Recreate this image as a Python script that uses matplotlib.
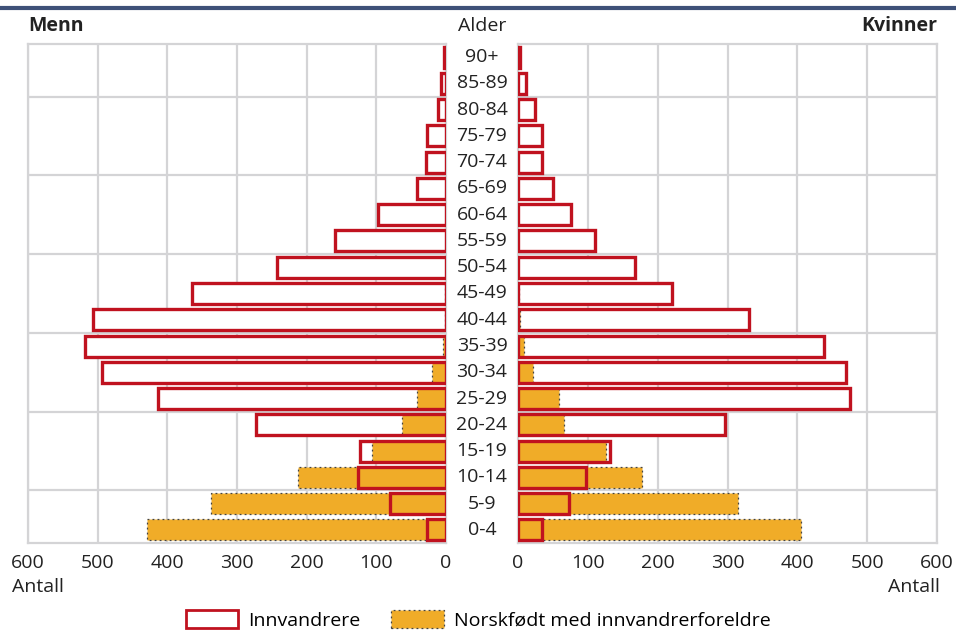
import numpy as np
import matplotlib.pyplot as plt
from matplotlib.patches import Patch

plt.rcParams['font.family'] = ['Open Sans', 'DejaVu Sans']

ages = ['0-4', '5-9', '10-14', '15-19', '20-24', '25-29', '30-34', '35-39', '40-44',
        '45-49', '50-54', '55-59', '60-64', '65-69', '70-74', '75-79', '80-84', '85-89', '90+']

# men
menn_innv = [27, 81, 126, 123, 273, 414, 494, 518, 507, 365, 243, 159, 97, 42, 29, 27, 11, 7, 3]
menn_nf = [429, 337, 213, 106, 63, 41, 20, 4, 1, 1, 0, 0, 0, 0, 0, 0, 0, 0, 0]
# women
kv_innv = [34, 73, 98, 132, 296, 475, 470, 438, 331, 221, 168, 110, 76, 50, 35, 35, 24, 12, 3]
kv_nf = [405, 315, 177, 126, 66, 59, 21, 8, 3, 2, 0, 0, 0, 0, 0, 0, 0, 0, 0]

red = '#C0121F'
orange = '#F0AC28'
grid_c = '#D4D4D6'
txt = '#222222'
fs = 14

fig = plt.figure(figsize=(9.56, 6.3), dpi=100)
axL = fig.add_axes([28 / 956, 87 / 630, 418 / 956, 499 / 630])
axR = fig.add_axes([518 / 956, 87 / 630, 419 / 956, 499 / 630])

y = np.arange(len(ages))
h = 0.8

for ax, innv, nf in [(axL, menn_innv, menn_nf), (axR, kv_innv, kv_nf)]:
    ax.barh(y, innv, height=h, color='white', edgecolor='none', zorder=2)
    ax.barh(y, nf, height=h, color=orange, edgecolor='#444444', linestyle=(0, (1.5, 2.5)),
            linewidth=0.9, zorder=3)
    ax.barh(y, innv, height=h, facecolor='none', edgecolor=red, linewidth=2.4, zorder=4)
    ax.set_xlim(0, 600)
    ax.set_ylim(-0.5, 18.5)
    ax.set_xticks(range(0, 601, 100))
    ax.set_yticks([])
    ax.set_yticks([1.5, 4.5, 7.5, 10.5, 13.5, 16.5], minor=True)
    ax.tick_params(axis='y', which='minor', length=0)
    ax.tick_params(axis='x', length=0, labelsize=fs, colors=txt, pad=8)
    ax.grid(True, axis='x', color=grid_c, linewidth=1.6, zorder=0)
    ax.grid(True, axis='y', which='minor', color=grid_c, linewidth=1.6, zorder=0)
    ax.set_axisbelow(True)
    for s in ax.spines.values():
        s.set_color(grid_c)
        s.set_linewidth(1.6)

axL.invert_xaxis()

# age labels in the middle
for i, a in enumerate(ages):
    fig.text(482 / 956, (87 + (i + 0.5) * 499 / 19) / 630, a, ha='center', va='center',
             fontsize=fs, color=txt)

fig.text(482 / 956, 1 - 26 / 630, 'Alder', ha='center', va='center', fontsize=fs, color=txt)
fig.text(28 / 956, 1 - 26 / 630, 'Menn', ha='left', va='center', fontsize=fs,
         fontweight='bold', color=txt)
fig.text(937 / 956, 1 - 26 / 630, 'Kvinner', ha='right', va='center', fontsize=fs,
         fontweight='bold', color=txt)
fig.text(12 / 956, 1 - 587 / 630, 'Antall', ha='left', va='center', fontsize=fs, color=txt)
fig.text(940 / 956, 1 - 587 / 630, 'Antall', ha='right', va='center', fontsize=fs, color=txt)

# blue rule at the top
fig.add_artist(plt.Line2D([0, 1], [1 - 8 / 630, 1 - 8 / 630], color='#3E5178', linewidth=3))

handles = [Patch(facecolor='white', edgecolor=red, linewidth=2),
           Patch(facecolor=orange, edgecolor='#444444', linestyle=(0, (1.5, 2.5)), linewidth=0.9)]
fig.legend(handles, ['Innvandrere', 'Norskfødt med innvandrerforeldre'], loc='center',
           bbox_to_anchor=(0.5, 1 - 620 / 630), ncol=2, frameon=False, fontsize=fs,
           handlelength=2.7, handleheight=1.0, columnspacing=1.6, handletextpad=0.5)

fig.savefig('out.png', dpi=100)
